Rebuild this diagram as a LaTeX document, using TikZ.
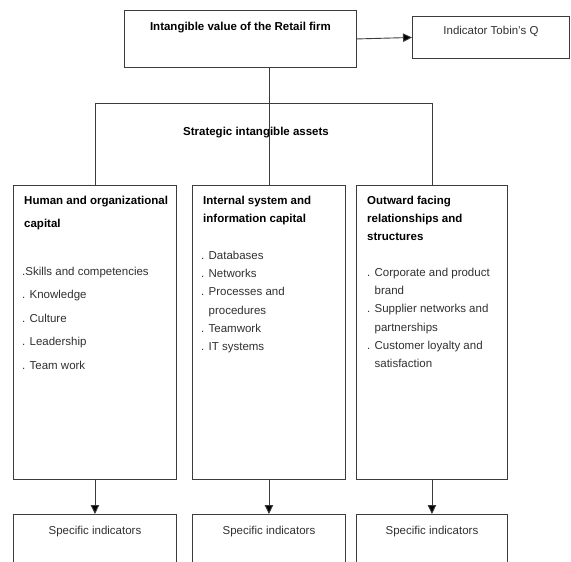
\documentclass[tikz,border=0pt]{standalone}
\usepackage{fontspec}
\setmainfont{Liberation Sans}
\usetikzlibrary{arrows.meta,positioning}
\definecolor{linegray}{HTML}{3C3C3C}
\definecolor{txtgray}{HTML}{303030}

\begin{document}
\begin{tikzpicture}[
  x=1pt, y=-1pt,
  every node/.style={inner sep=0pt},
  box/.style ={draw=linegray, line width=0.9pt, anchor=north west},
  ttl/.style ={font=\fontsize{11.5}{18.3}\selectfont\bfseries, align=left, text=black},
  ttlwide/.style={ttl, font=\fontsize{11.5}{23.4}\selectfont\bfseries},
  item/.style={font=\fontsize{11.5}{18.3}\selectfont, align=left, text=txtgray},
  itemwide/.style={item, font=\fontsize{11.5}{23.5}\selectfont},
  link/.style={draw=linegray, line width=0.9pt},
  arr/.style ={link, -{Triangle[length=9pt,width=8.5pt,fill=black]}}
]
\useasboundingbox (0,0) rectangle (571,562);
\clip (0,0) rectangle (571,562);

% Top level
\node[box, minimum width=232pt, minimum height=57pt] (top)   at (124,10) {};
\node[box, minimum width=157pt, minimum height=42pt] (tobin) at (412,16) {};
\node[ttl, below=11.6pt of top.north]  (toptxt)   {Intangible value of the Retail firm};
\node[item, below=9.6pt of tobin.north] (tobintxt) {Indicator Tobin's Q};

% Asset columns
\node[box, minimum width=163pt, minimum height=294pt] (hum)  at (13,185)  {};
\node[box, minimum width=153pt, minimum height=294pt] (intl) at (192,185) {};
\node[box, minimum width=151pt, minimum height=294pt] (outw) at (356,185) {};

\coordinate (brk) at (256,103.5);
\node[ttl, below=23.1pt of brk] (strat) {Strategic intangible assets};

\node[ttlwide, below right=10.6pt and 11pt of hum.north west] (humttl)
     {Human and organizational\\capital};
\node[itemwide, below right=81.6pt and 9pt of hum.north west] (humlist)
     {.Skills and competencies\\. Knowledge\\. Culture\\. Leadership\\. Team work};

\node[ttl, below right=10.6pt and 11pt of intl.north west] (intlttl)
     {Internal system and\\information capital};
\node[item, below right=65.6pt and 9pt of intl.north west] (intllist)
     {. Databases\\. Networks\\. Processes and\\\phantom{. }procedures\\. Teamwork\\. IT systems};

\node[ttl, below right=10.6pt and 11pt of outw.north west] (outwttl)
     {Outward facing\\relationships and\\structures};
\node[item, below right=82.6pt and 11pt of outw.north west] (outwlist)
     {. Corporate and product\\\phantom{. }brand\\. Supplier networks and\\\phantom{. }partnerships\\. Customer loyalty and\\\phantom{. }satisfaction};

% Indicator boxes (cut by the page edge)
\node[box, minimum width=163pt, minimum height=80pt] (spec1) at (13,514)  {};
\node[box, minimum width=153pt, minimum height=80pt] (spec2) at (192,514) {};
\node[box, minimum width=151pt, minimum height=80pt] (spec3) at (356,514) {};
\node[item, below=11.6pt of spec1.north] (spec1txt) {Specific indicators};
\node[item, below=11.6pt of spec2.north] (spec2txt) {Specific indicators};
\node[item, below=11.6pt of spec3.north] (spec3txt) {Specific indicators};

% Connectors
\draw[arr]  (top.east) -- (tobin.west);
\draw[link] (top.south -| intl.north) -- (intl.north);
\draw[link] (hum.north) |- (brk) -| (outw.north);
\draw[arr]  (hum.south)  -- (spec1.north);
\draw[arr]  (intl.south) -- (spec2.north);
\draw[arr]  (outw.south) -- (spec3.north);

\end{tikzpicture}
\end{document}
